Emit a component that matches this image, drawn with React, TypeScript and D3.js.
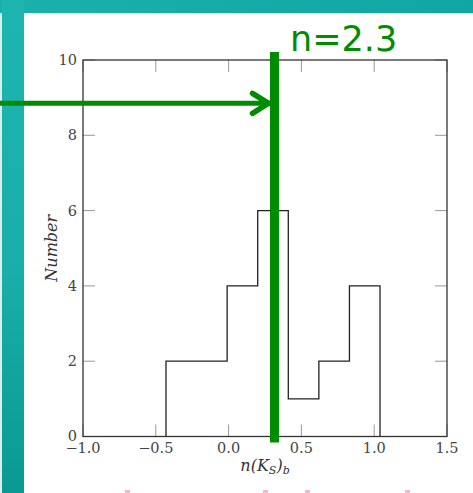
import * as d3 from 'd3'

// histogram bin edges and counts
const binEdges = [-0.43, -0.22, -0.01, 0.2, 0.41, 0.62, 0.83, 1.04]
const binCounts = [2, 2, 4, 6, 1, 2, 4]

const xTicks = [-1.0, -0.5, 0.0, 0.5, 1.0, 1.5]
const yTicks = [0, 2, 4, 6, 8, 10]

const markerX = 0.315
const arrowY = 8.85
const markerLabel = 'n=2.3'

const W = 473
const H = 493
const GREEN = '#008c00'
const SERIF = '"DejaVu Serif", "Liberation Serif", serif'

export default function App() {
  const margin = { left: 83, right: W - 447, top: 60, bottom: H - 436.5 }
  const x = d3.scaleLinear().domain([-1, 1.5]).range([margin.left, W - margin.right])
  const y = d3.scaleLinear().domain([0, 10]).range([H - margin.bottom, margin.top])

  // step outline like matplotlib histtype='step'
  const pts: [number, number][] = [[binEdges[0], 0]]
  binCounts.forEach((c, i) => {
    pts.push([binEdges[i], c])
    pts.push([binEdges[i + 1], c])
  })
  pts.push([binEdges[binEdges.length - 1], 0])
  const stepPath = d3.line<[number, number]>()
    .x(d => x(d[0]))
    .y(d => y(d[1]))(pts)

  const x0 = x.range()[0], x1 = x.range()[1]
  const y0 = y.range()[0], y1 = y.range()[1]
  const tickLen = 12
  const mx = x(markerX)
  const ay = y(arrowY)

  const fmtX = (v: number) => (v < 0 ? '\u2212' : '') + Math.abs(v).toFixed(1)

  return (
    <div style={{ position: 'fixed', left: 0, top: 0 }}>
      <svg width={W} height={H} style={{ display: 'block' }}>
        <defs>
          <linearGradient id="tealV" x1="0" y1="0" x2="0" y2="1">
            <stop offset="0" stopColor="#1eb4af" />
            <stop offset="0.55" stopColor="#19aea9" />
            <stop offset="1" stopColor="#089a92" />
          </linearGradient>
          <linearGradient id="tealH" x1="0" y1="0" x2="1" y2="0">
            <stop offset="0" stopColor="#1cb0ac" />
            <stop offset="1" stopColor="#11a6a3" />
          </linearGradient>
        </defs>
        <rect x={0} y={0} width={W} height={H} fill="#fff" />
        {/* teal slide background */}
        <rect x={0} y={0} width={W} height={13} fill="url(#tealH)" />
        <rect x={2} y={0} width={22} height={H} fill="url(#tealV)" />
        <rect x={0} y={13} width={2} height={H} fill="#d9efee" />

        {/* ticks */}
        {xTicks.map(t => (
          <g key={'xt' + t} stroke="#999" strokeWidth={1}>
            <line x1={x(t)} x2={x(t)} y1={y0} y2={y0 - tickLen} />
            <line x1={x(t)} x2={x(t)} y1={y1} y2={y1 + tickLen} />
          </g>
        ))}
        {yTicks.map(t => (
          <g key={'yt' + t} stroke="#999" strokeWidth={1}>
            <line x1={x0} x2={x0 + tickLen} y1={y(t)} y2={y(t)} />
            <line x1={x1} x2={x1 - tickLen} y1={y(t)} y2={y(t)} />
          </g>
        ))}

        {/* histogram */}
        <path d={stepPath ?? ''} fill="none" stroke="#222" strokeWidth={1.3} />

        {/* frame */}
        <rect x={x0} y={y1} width={x1 - x0} height={y0 - y1} fill="none" stroke="#333" strokeWidth={1.3} />

        {/* tick labels */}
        {xTicks.map(t => (
          <text key={'xl' + t} x={x(t)} y={y0 + 16} textAnchor="middle"
            fontFamily={SERIF} fontSize={14.5} fill="#444">{fmtX(t)}</text>
        ))}
        {yTicks.map(t => (
          <text key={'yl' + t} x={x0 - 6} y={y(t) + (t === 0 ? 4 : 5)} textAnchor="end"
            fontFamily={SERIF} fontSize={14.5} fill="#444">{t}</text>
        ))}

        {/* axis titles */}
        <text x={(x0 + x1) / 2} y={471} textAnchor="middle" fontFamily={SERIF}
          fontStyle="italic" fontSize={16} fill="#333">
          n(K<tspan fontSize={11} dy={3}>S</tspan><tspan dy={-3}>)</tspan><tspan fontSize={11} dy={3}>b</tspan>
        </text>
        <text transform={`translate(57,${(y0 + y1) / 2}) rotate(-90)`} textAnchor="middle"
          fontFamily={SERIF} fontStyle="italic" fontSize={16} fill="#333">Number</text>

        {/* green annotation */}
        <line x1={0} x2={mx - 4} y1={ay} y2={ay} stroke={GREEN} strokeWidth={5} />
        <polyline points={`${mx - 22},${ay - 10} ${mx - 6},${ay} ${mx - 22},${ay + 10}`}
          fill="none" stroke={GREEN} strokeWidth={5.5} strokeLinecap="round" />
        <rect x={mx - 4.5} y={y1 - 8} width={9} height={y0 - y1 + 14} fill={GREEN} />
        <text x={290} y={51} fontFamily='"DejaVu Sans", sans-serif' fontSize={35} fill={GREEN}>{markerLabel}</text>

        {/* clipped pink text at the bottom edge */}
        {[127, 265, 307, 407].map(px => (
          <rect key={px} x={px - 2} y={490} width={5} height={3} fill="#f6b3d8" />
        ))}
      </svg>
    </div>
  )
}
